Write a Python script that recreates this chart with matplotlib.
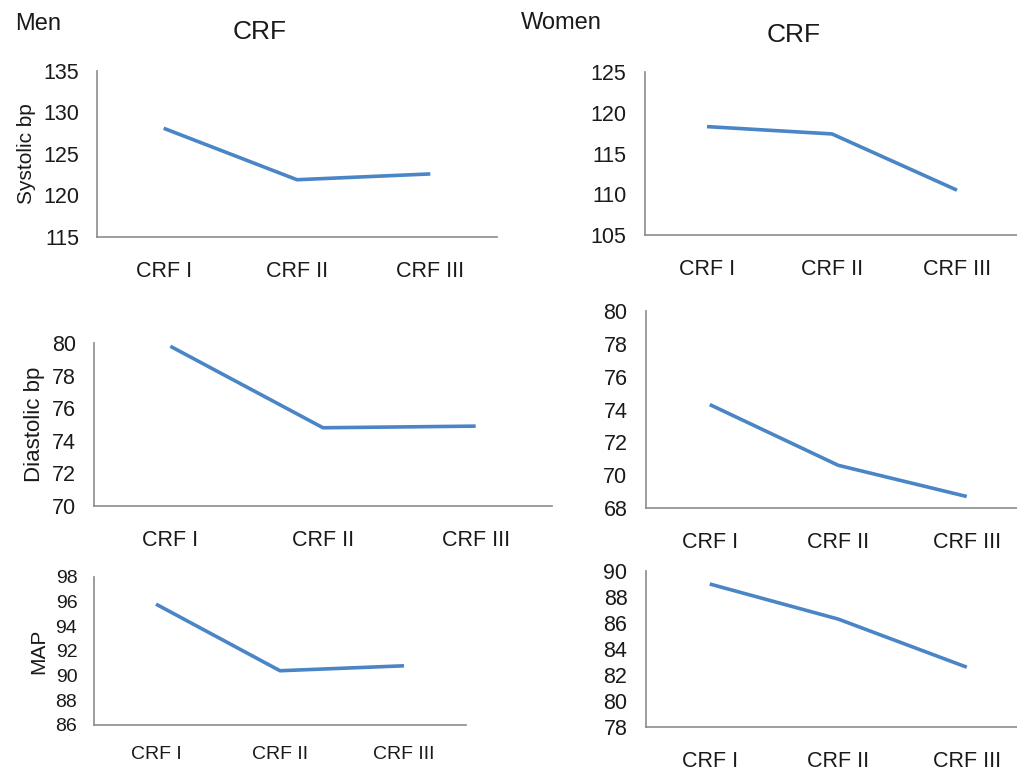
import matplotlib.pyplot as plt

plt.rcParams['font.family'] = ['Liberation Sans', 'DejaVu Sans']

categories = ['CRF I', 'CRF II', 'CRF III']

men_systolic = [128.1, 121.9, 122.6]
women_systolic = [118.3, 117.4, 110.5]
men_diastolic = [79.8, 74.8, 74.9]
women_diastolic = [74.3, 70.6, 68.7]
men_map = [95.8, 90.4, 90.8]
women_map = [89.0, 86.3, 82.6]

W, H = 1017, 770
LINE = '#4a85c6'
AXIS = '#8c8c8c'
TEXT = '#1a1a1a'


def px_rect(left, top, right, bottom):
    # pixel box -> figure fraction
    return [left / W, (H - bottom) / H, (right - left) / W, (bottom - top) / H]


def panel(fig, rect, values, ylim, step, ylabel=None, fs=15.5, ylab_fs=15, ypad=13, xpad=17):
    ax = fig.add_axes(rect)
    ax.plot(range(len(categories)), values, color=LINE, lw=2.6, solid_capstyle='butt')
    ax.set_xlim(-0.5, len(categories) - 0.5)
    ax.set_ylim(*ylim)
    ax.set_yticks(range(ylim[0], ylim[1] + 1, step))
    ax.set_xticks(range(len(categories)))
    ax.set_xticklabels(categories)
    for s in ('top', 'right'):
        ax.spines[s].set_visible(False)
    for s in ('left', 'bottom'):
        ax.spines[s].set_color(AXIS)
        ax.spines[s].set_linewidth(1.2)
    ax.tick_params(axis='both', length=0, labelsize=fs, colors=TEXT)
    ax.tick_params(axis='y', pad=ypad)
    ax.tick_params(axis='x', pad=xpad)
    ax.patch.set_alpha(0)
    if ylabel:
        ax.set_ylabel(ylabel, fontsize=ylab_fs, color=TEXT, labelpad=5)
    return ax


fig = plt.figure(figsize=(W / 100, H / 100), dpi=100)

ax1 = panel(fig, px_rect(97, 71, 497, 237), men_systolic, (115, 135), 5, 'Systolic bp')
ax2 = panel(fig, px_rect(644.5, 72, 1019.5, 235), women_systolic, (105, 125), 5)
ax3 = panel(fig, px_rect(94, 343, 552, 506), men_diastolic, (70, 80), 2, 'Diastolic bp', ylab_fs=16)
ax4 = panel(fig, px_rect(645.5, 311, 1031, 508), women_diastolic, (68, 80), 2)
ax5 = panel(fig, px_rect(94, 577, 466, 725), men_map, (86, 98), 2, 'MAP', fs=14, ylab_fs=15, ypad=12, xpad=15)
ax6 = panel(fig, px_rect(645.5, 571, 1031, 727), women_map, (78, 90), 2)

fig.text(15 / W, 1 - 24 / H, 'Men', fontsize=17, color=TEXT, ha='left', va='center')
fig.text(260 / W, 1 - 32 / H, 'CRF', fontsize=19, color=TEXT, ha='center', va='center')
fig.text(521 / W, 1 - 23 / H, 'Women', fontsize=17, color=TEXT, ha='left', va='center')
fig.text(794 / W, 1 - 35 / H, 'CRF', fontsize=19, color=TEXT, ha='center', va='center')

fig.savefig('out.png', dpi=100)
